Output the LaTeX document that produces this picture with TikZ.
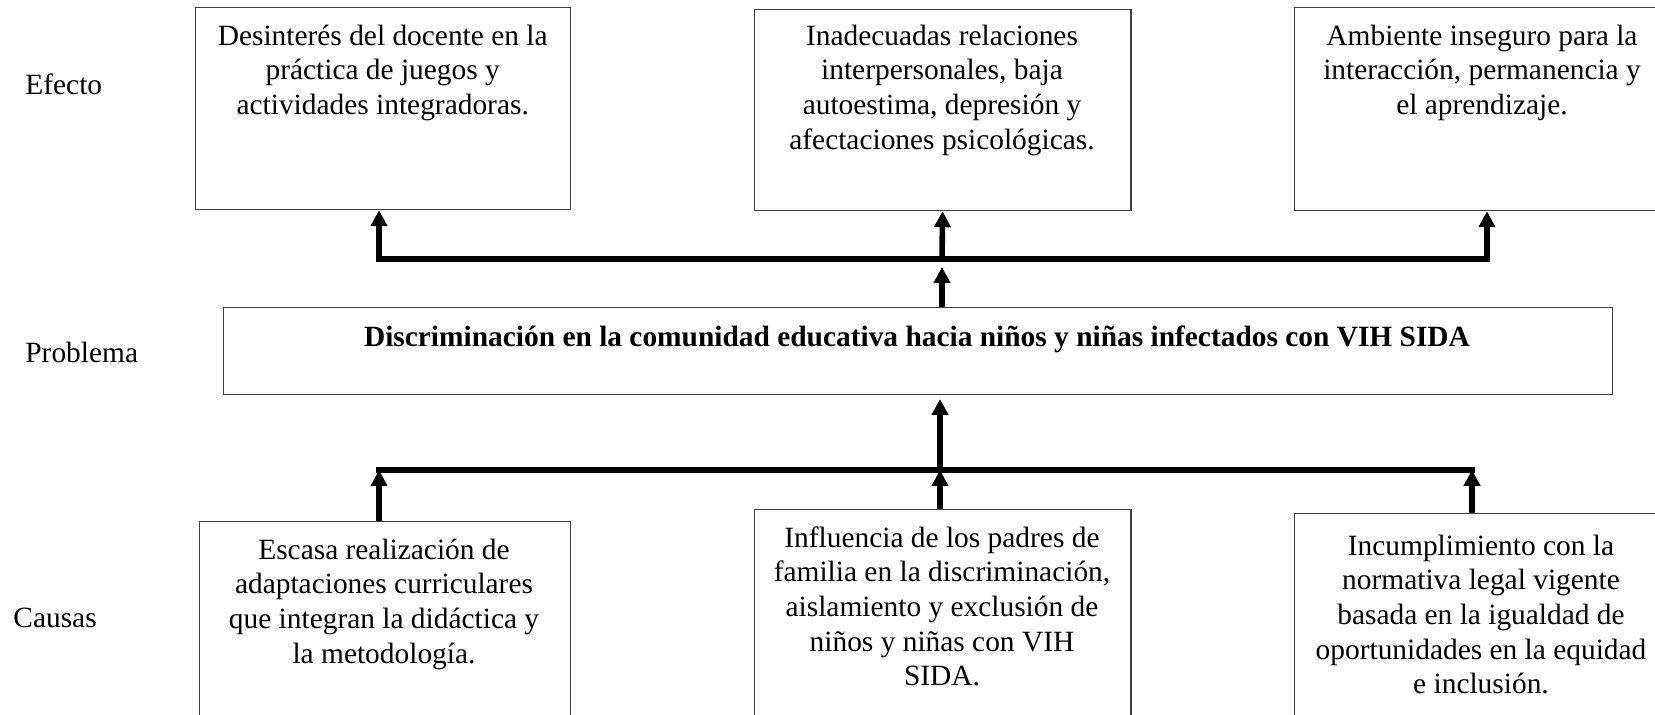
\documentclass[tikz,border=0pt]{standalone}
\usepackage{fontspec}
\setmainfont{Liberation Serif}
\usetikzlibrary{arrows.meta}
\begin{document}
\begin{tikzpicture}[x=0.5pt,y=-0.5pt,
  box/.style={draw=black!75, line width=0.6pt, inner sep=0pt, anchor=north west},
  txt/.style={font=\fontsize{14.7}{17.3}\selectfont, align=center, inner sep=0pt, anchor=north},
  lbl/.style={font=\fontsize{14.7}{17.3}\selectfont, inner sep=0pt, anchor=base west},
  arr/.style={line width=2.8pt, -{Triangle[width=8pt,length=8pt]}},
  busline/.style={line width=2.8pt, line cap=rect}]
\useasboundingbox (0,0) rectangle (1655,715);
\clip (0,0) rectangle (1655,715);
\fill[white] (0,0) rectangle (1655,715);
% labels
\node[lbl] (lefecto) at (25,95) {Efecto};
\node[lbl] (lprob) at (25,363) {Problema};
\node[lbl] (lcausas) at (13,628) {Causas};
% effect boxes
\node[box, minimum width=187.5pt, minimum height=101pt] (e1) at (195,7) {};
\node[box, minimum width=188.4pt, minimum height=100.5pt] (e2) at (753.6,9) {};
\node[box, minimum width=188pt, minimum height=101.5pt] (e3) at (1294,7) {};
\node[txt] (e1t) at (382.7,21) {\rule{0pt}{12pt}Desinterés del docente en la\\ práctica de juegos y\\ actividades integradoras.};
\node[txt] (e2t) at (942,21) {\rule{0pt}{12pt}Inadecuadas relaciones\\ interpersonales, baja\\ autoestima, depresión y\\ afectaciones psicológicas.};
\node[txt] (e3t) at (1482,21) {\rule{0pt}{12pt}Ambiente inseguro para la\\ interacción, permanencia y\\ el aprendizaje.};
% problem
\node[box, minimum width=694.5pt, minimum height=43.5pt] (prob) at (223,307) {};
\node[txt, font=\fontsize{14.7}{17.3}\selectfont\bfseries] (probt) at (917,322) {\rule{0pt}{12pt}Discriminación en la comunidad educativa hacia niños y niñas infectados con VIH SIDA};
% cause boxes
\node[box, minimum width=185.5pt, minimum height=105pt] (c1) at (199,521) {};
\node[box, minimum width=188.4pt, minimum height=110pt] (c2) at (753.6,509) {};
\node[box, minimum width=188pt, minimum height=110pt] (c3) at (1294,513) {};
\node[txt] (c1t) at (384,535) {\rule{0pt}{12pt}Escasa realización de\\ adaptaciones curriculares\\ que integran la didáctica y\\ la metodología.};
\node[txt] (c2t) at (942,523) {\rule{0pt}{12pt}Influencia de los padres de\\ familia en la discriminación,\\ aislamiento y exclusión de\\ niños y niñas con VIH\\ SIDA.};
\node[txt] (c3t) at (1481,531) {\rule{0pt}{12pt}Incumplimiento con la\\ normativa legal vigente\\ basada en la igualdad de\\ oportunidades en la equidad\\ e inclusión.};
% upper bus
\coordinate (ub1) at (379,259);
\coordinate (ub2) at (942,259);
\coordinate (ub3) at (1487,259);
\coordinate (up) at (942,267);
\draw[arr] (ub2) -- (ub1) -- (ub1 |- e1.south);
\draw[arr] (ub2) -- (ub3) -- (ub3 |- e3.south);
\draw[arr] (ub2) -- (e2.south);
\draw[arr] (prob.north -| up) -- (up);
% lower bus
\coordinate (lb1) at (379,470);
\coordinate (lb2) at (940,470);
\coordinate (lb3) at (1472,470);
\coordinate (lp) at (940,399);
\draw[busline] (lb1) -- (lb3);
\draw[arr] (c1.north -| lb1) -- (lb1);
\draw[arr] (c2.north -| lb2) -- (lb2);
\draw[arr] (c3.north -| lb3) -- (lb3);
\draw[arr] (lb2) -- (lp);
\end{tikzpicture}
\end{document}
